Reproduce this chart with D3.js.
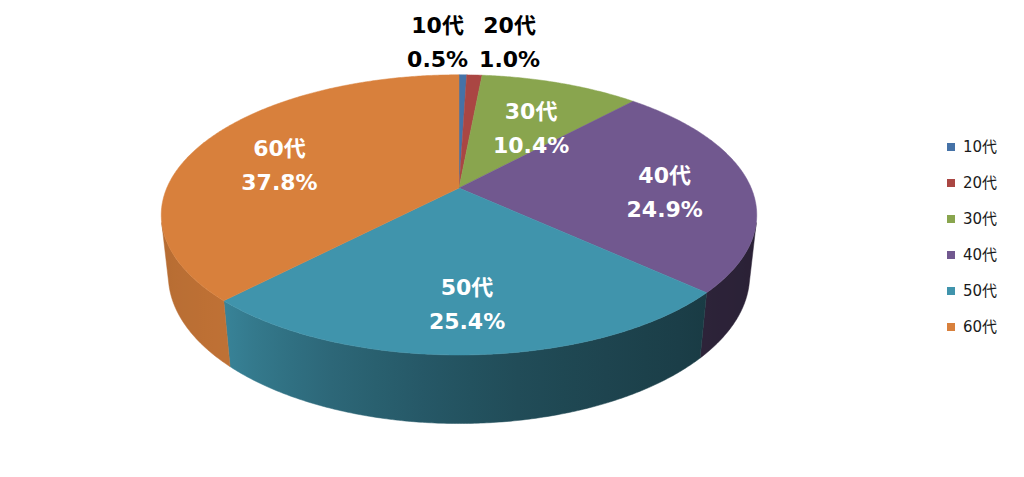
<!DOCTYPE html>
<html>
<head>
<meta charset="utf-8">
<script src="https://cdn.jsdelivr.net/npm/d3@7"></script>
<style>
  body { margin: 0; background: #fff; }
  svg { display: block; }
</style>
</head>
<body>
<div id="chart"></div>
<script>
// data
const categories = ['10代', '20代', '30代', '40代', '50代', '60代'];
const shares = [0.5, 1.0, 10.4, 24.9, 25.4, 37.8];
const shareLabels = ['0.5%', '1.0%', '10.4%', '24.9%', '25.4%', '37.8%'];

const width = 1024, height = 477;
const fontFamily = '"DejaVu Sans", "Noto Sans CJK JP", sans-serif';

// 3d view: unit disc seen from above at an angle, with perspective
const view = {cx: 459, cy: 188, focal: 1350, dist: 4.62, tilt: 27.5 * Math.PI / 180, depth: 0.235};
const sinT = Math.sin(view.tilt), cosT = Math.cos(view.tilt);

// theta is the pie angle (clockwise from the far point), r the radius, y the height
function project(theta, r, y) {
  const X = r * Math.sin(theta), Z = -r * Math.cos(theta);
  const d = view.dist - Z * cosT - y * sinT;
  return [view.cx + view.focal * X / d, view.cy + view.focal * (Z * sinT - y * cosT) / d];
}

const color = d3.scaleOrdinal()
  .domain(categories)
  .range(['#4572A7', '#AA4643', '#89A54E', '#71588F', '#4094AC', '#D8803C']);

// how much darker the side wall gets, by angle (light from the front left)
const deg = Math.PI / 180;
const shade = d3.scaleLinear()
  .domain([104, 132, 170, 224, 256].map(a => a * deg))
  .range([2.8, 2.6, 1.9, 0.35, 0.5])
  .clamp(true);

const data = categories.map((c, i) => ({category: c, value: shares[i], label: shareLabels[i]}));
const arcs = d3.pie().sort(null).value(d => d.value)(data);

const svg = d3.select('#chart').append('svg')
  .attr('width', width)
  .attr('height', height);
const defs = svg.append('defs');

const line = d3.line();

function rimPoints(a0, a1, r, y) {
  const n = Math.max(2, Math.ceil((a1 - a0) / (0.5 * deg)));
  return d3.range(n + 1).map(i => project(a0 + (a1 - a0) * i / n, r, y));
}

// visible part of the outer wall
const k = 1 / (view.dist * cosT);
const visStart = Math.acos(-k), visEnd = 2 * Math.PI - Math.acos(-k);

const sides = arcs
  .map(a => ({...a, s0: Math.max(a.startAngle, visStart), s1: Math.min(a.endAngle, visEnd)}))
  .filter(a => a.s1 > a.s0);

sides.forEach((a, i) => {
  const xa = project(a.s0, 1, 0)[0], xb = project(a.s1, 1, 0)[0];
  const grad = defs.append('linearGradient')
    .attr('id', 'side-' + i)
    .attr('gradientUnits', 'userSpaceOnUse')
    .attr('x1', xa).attr('x2', xb).attr('y1', 0).attr('y2', 0);
  const n = 12;
  d3.range(n + 1).forEach(j => {
    const t = a.s0 + (a.s1 - a.s0) * j / n;
    const x = project(t, 1, 0)[0];
    grad.append('stop')
      .attr('offset', (x - xa) / (xb - xa))
      .attr('stop-color', d3.color(color(a.data.category)).darker(shade(t)));
  });
});

svg.append('g').selectAll('path')
  .data(sides)
  .join('path')
  .attr('d', (a, i) => {
    const top = rimPoints(a.s0, a.s1, 1, 0);
    const bottom = rimPoints(a.s0, a.s1, 1, -view.depth).reverse();
    return line(top.concat(bottom)) + 'Z';
  })
  .attr('fill', (a, i) => `url(#side-${i})`)
  .attr('stroke', (a, i) => `url(#side-${i})`)
  .attr('stroke-width', 0.5);

svg.append('g').selectAll('path')
  .data(arcs)
  .join('path')
  .attr('d', a => line([project(0, 0, 0)].concat(rimPoints(a.startAngle, a.endAngle, 1, 0))) + 'Z')
  .attr('fill', a => color(a.data.category))
  .attr('stroke', a => color(a.data.category))
  .attr('stroke-width', 0.5);

// labels: big slices inside in white, small ones stacked above the pie in black
const inside = arcs.filter(a => a.data.value >= 5);
const outside = arcs.filter(a => a.data.value < 5);

const labels = svg.append('g')
  .attr('font-family', fontFamily)
  .attr('font-weight', 'bold')
  .attr('font-size', 22)
  .attr('text-anchor', 'middle');

inside.forEach(a => {
  const mid = (a.startAngle + a.endAngle) / 2;
  const c = project(0, 0, 0), rim = project(mid, 1, 0);
  const x = c[0] + (rim[0] - c[0]) * 0.71;
  const y = c[1] + (rim[1] - c[1]) * 0.65 + 8;
  const t = labels.append('text').attr('fill', '#fff');
  t.append('tspan').attr('x', x).attr('y', y - 9).text(a.data.category);
  t.append('tspan').attr('x', x).attr('y', y + 25).text(a.data.label);
});

const anchor = d3.mean(outside, a => project((a.startAngle + a.endAngle) / 2, 1, 0)[0]);
const outX = d3.scalePoint()
  .domain(outside.map(a => a.data.category))
  .range([anchor - 31, anchor + 41]);

outside.forEach(a => {
  const x = outX(a.data.category);
  const t = labels.append('text').attr('fill', '#000');
  t.append('tspan').attr('x', x).attr('y', 33).text(a.data.category);
  t.append('tspan').attr('x', x).attr('y', 67).text(a.data.label);
});

// legend
const legendY = d3.scalePoint()
  .domain(categories)
  .range([147, 327]);

const legend = svg.append('g')
  .attr('font-family', fontFamily)
  .attr('font-size', 15);

legend.selectAll('rect')
  .data(categories)
  .join('rect')
  .attr('x', 947)
  .attr('y', d => legendY(d) - 4)
  .attr('width', 8)
  .attr('height', 8)
  .attr('fill', d => color(d));

legend.selectAll('text')
  .data(categories)
  .join('text')
  .attr('x', 963)
  .attr('y', d => legendY(d))
  .attr('dy', '0.35em')
  .attr('fill', '#1a1a1a')
  .text(d => d);
</script>
</body>
</html>
